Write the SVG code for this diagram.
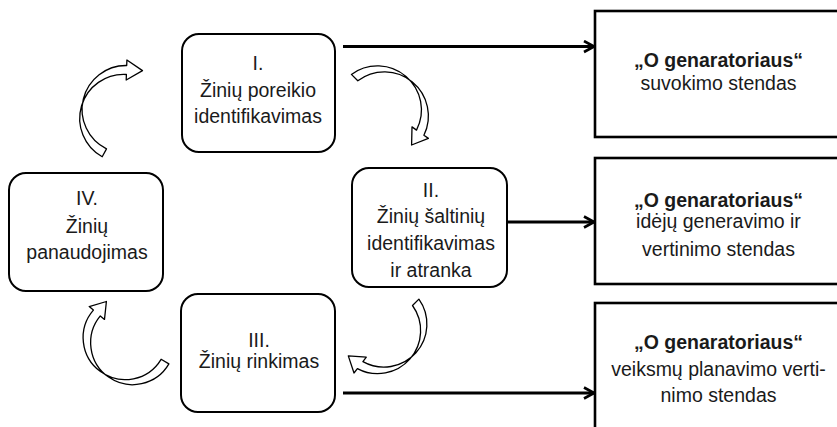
<svg xmlns="http://www.w3.org/2000/svg" width="837" height="427" viewBox="0 0 837 427">
<style>
text{font-family:"Liberation Sans",Arial,sans-serif;font-size:19.5px;fill:#1a1a1a;text-anchor:middle}
.b{font-weight:bold}
.node{fill:#fff;stroke:#000;stroke-width:2}
.stand{fill:#fff;stroke:#000;stroke-width:2.6}
.line{stroke:#000;stroke-width:3;fill:none}
.curve{fill:#fff;stroke:#000;stroke-width:1.3;stroke-linejoin:round}
</style>
<defs>
<marker id="ah" viewBox="0 0 14 14" refX="12" refY="7" markerWidth="14" markerHeight="14" markerUnits="userSpaceOnUse" orient="auto">
<path d="M2,1.5 L12,7 L2,12.5" fill="none" stroke="#000" stroke-width="2.6"/>
</marker>
</defs>
<rect width="837" height="427" fill="#fff"/>
<g id="stand1"><rect class="stand" x="595" y="11" width="260" height="126"/>
<text class="b" x="718.5" y="67">„O genaratoriaus“</text>
<text x="718.5" y="89.5">suvokimo stendas</text></g>
<g id="stand2"><rect class="stand" x="595" y="158" width="260" height="126"/>
<text class="b" x="718.5" y="207">„O genaratoriaus“</text>
<text x="718.5" y="228">idėjų generavimo ir</text>
<text x="718.5" y="256">vertinimo stendas</text></g>
<g id="stand3"><rect class="stand" x="595" y="303" width="260" height="140"/>
<text class="b" x="718.5" y="349">„O genaratoriaus“</text>
<text x="718.5" y="376">veiksmų planavimo verti-</text>
<text x="718.5" y="402">nimo stendas</text></g>
<g id="connectors">
<line class="line" x1="343" y1="46.5" x2="594" y2="46.5" marker-end="url(#ah)"/>
<line class="line" x1="507" y1="222" x2="594" y2="222" marker-end="url(#ah)"/>
<line class="line" x1="343" y1="393" x2="594" y2="393" marker-end="url(#ah)"/>
<path class="curve" d="M102.2,156.8 A44,44 0 0 1 126.4,74.5 L126.2,80 L142.5,70.6 L126.9,60 L126.7,65.5 A44,44 0 0 0 106.5,148.9 Z"/>
<path class="curve" d="M351.4,74.4 A44,44 0 0 1 416.5,130.1 L412,126.9 L411.6,145 L428.4,138.4 L423.9,135.2 A44,44 0 0 0 357.8,80.8 Z"/>
<path class="curve" d="M418.9,299.1 A43,43 0 0 1 362.9,361.6 L366.3,357.2 L348.3,355.9 L354,373 L357.4,368.6 A43,43 0 0 0 412.5,305.5 Z"/>
<path class="curve" d="M168.9,363.9 A42,42 0 1 1 100.3,315.9 L104.5,319.4 L106.4,301.5 L89.2,306.6 L93.4,310.1 A42,42 0 1 0 161.1,359.3 Z"/>
</g>
<g id="n1"><rect class="node" x="182" y="34" width="153" height="118" rx="17"/>
<text x="258" y="70">I.</text>
<text x="258" y="96.5">Žinių poreikio</text>
<text x="258" y="123">identifikavimas</text></g>
<g id="n2"><rect class="node" x="352" y="168" width="155" height="119" rx="17"/>
<text x="431" y="197">II.</text>
<text x="431" y="223">Žinių šaltinių</text>
<text x="431" y="250">identifikavimas</text>
<text x="431" y="276.5">ir atranka</text></g>
<g id="n3"><rect class="node" x="181" y="294" width="154" height="118" rx="17"/>
<text x="259" y="347">III.</text>
<text x="259" y="367.5">Žinių rinkimas</text></g>
<g id="n4"><rect class="node" x="9" y="173" width="154" height="118" rx="17"/>
<text x="87" y="205">IV.</text>
<text x="87" y="232.5">Žinių</text>
<text x="87" y="259">panaudojimas</text></g>
</svg>
